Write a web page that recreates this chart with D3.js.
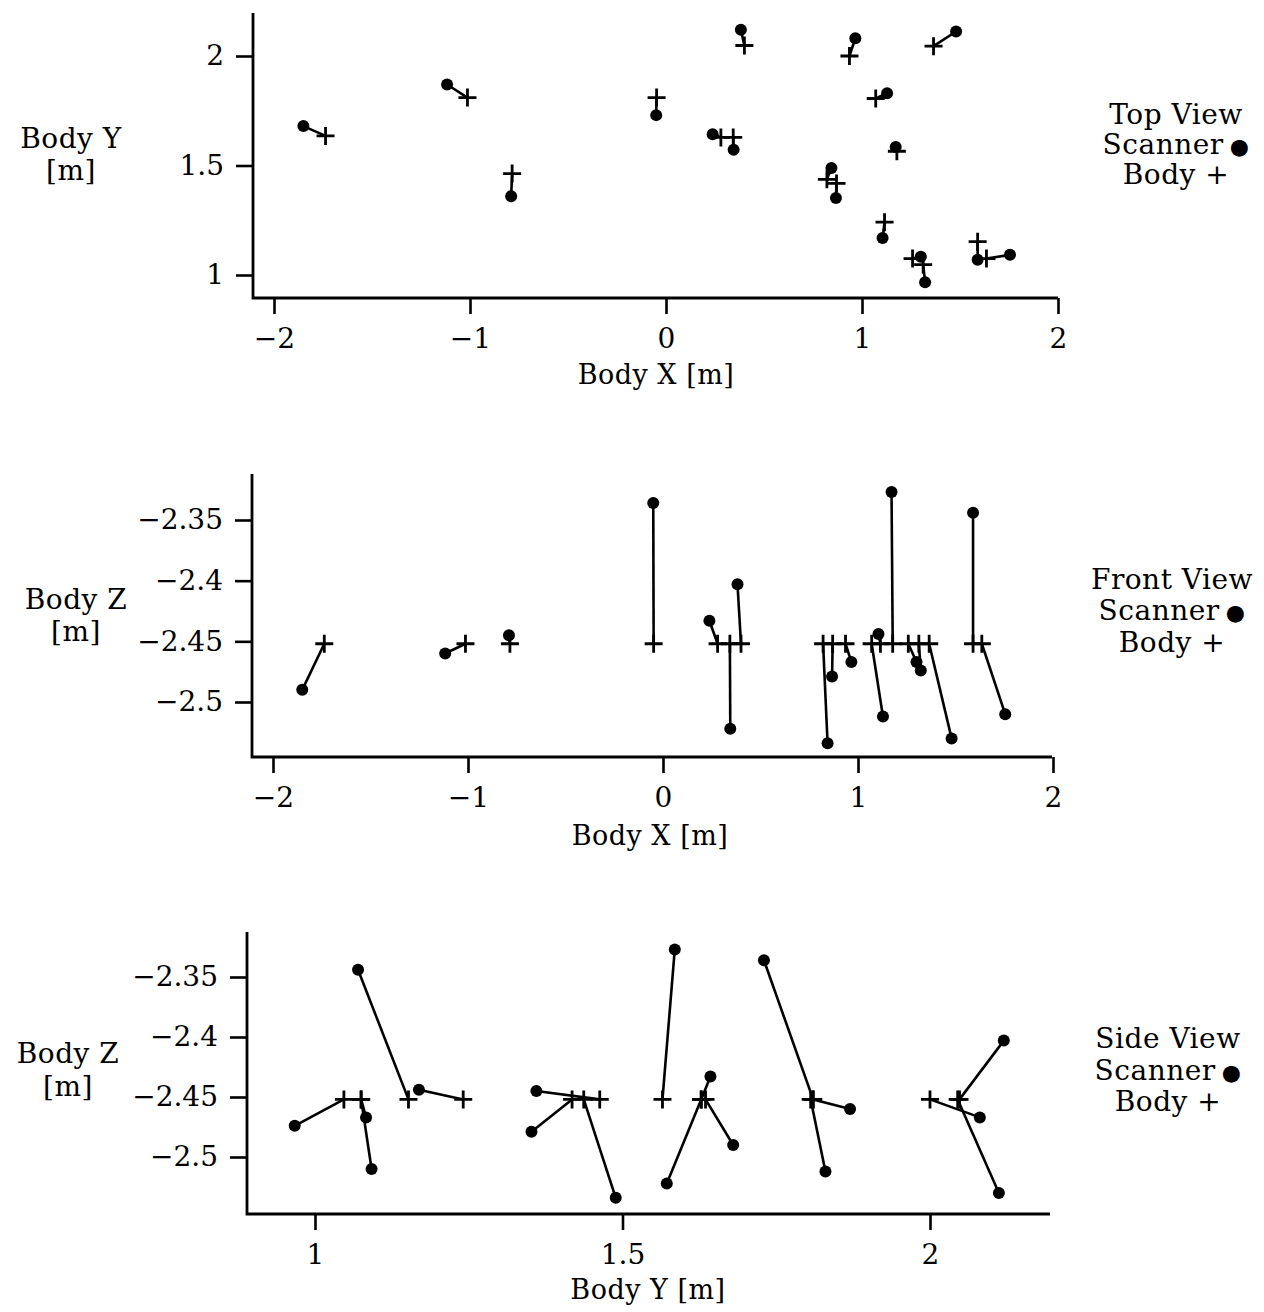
<!DOCTYPE html>
<html><head><meta charset="utf-8">
<script src="https://cdn.jsdelivr.net/npm/d3@7"></script>
<style>body{margin:0;background:#fff}</style></head>
<body><svg id="c" width="1264" height="1312"></svg>
<script>
// ---- data: 18 targets, body position (+) and scanner position (•) in metres ----
const targets = ["1","2","3","4","5","6","7","8","9","10","11","12","13","14","15","16","17","18"];
const bodyX = [-1.737,-1.013,-0.785,-0.048,0.400,0.936,1.365,0.280,0.343,1.070,1.178,0.821,0.870,1.115,1.258,1.312,1.590,1.635];
const bodyY = [1.635,1.810,1.463,1.810,2.048,2.000,2.045,1.628,1.628,1.806,1.565,1.437,1.418,1.241,1.075,1.047,1.152,1.075];
const bodyZ = [-2.452,-2.452,-2.452,-2.452,-2.452,-2.452,-2.452,-2.452,-2.452,-2.452,-2.452,-2.452,-2.452,-2.452,-2.452,-2.452,-2.452,-2.452];
const scanX = [-1.850,-1.117,-0.790,-0.050,0.382,0.966,1.480,0.238,0.345,1.128,1.172,0.844,0.867,1.105,1.300,1.322,1.590,1.755];
const scanY = [1.680,1.870,1.360,1.730,2.120,2.081,2.112,1.643,1.572,1.830,1.585,1.489,1.352,1.169,1.083,0.967,1.070,1.092];
const scanZ = [-2.490,-2.460,-2.445,-2.336,-2.403,-2.467,-2.530,-2.433,-2.522,-2.512,-2.327,-2.534,-2.479,-2.444,-2.467,-2.474,-2.344,-2.510];

const xTicks = [-2,-1,0,1,2];
const yTicks = [1,1.5,2];
const zTicks = [-2.35,-2.4,-2.45,-2.5];

const panels = [
  {h:"x", v:"y", hTicks:xTicks, vTicks:yTicks, hDom:[-2,2], hRange:[274,1058], vDom:[1,2], vRange:[275,56],
   axX:253, axTop:13, axY:298, axRight:1058,
   hTitle:"Body X [m]", hTitleX:656, hTitleY:384, vTitle:["Body Y","[m]"], vTitleX:71, vTitleY:[148,180],
   legend:["Top View","Scanner","Body +"], legX:1176, legY:[124,154,184]},
  {h:"x", v:"z", hTicks:xTicks, vTicks:zTicks, hDom:[-2,2], hRange:[273,1053], vDom:[-2.5,-2.35], vRange:[702,520],
   axX:252, axTop:474, axY:757, axRight:1052,
   hTitle:"Body X [m]", hTitleX:650, hTitleY:845, vTitle:["Body Z","[m]"], vTitleX:76, vTitleY:[609,641],
   legend:["Front View","Scanner","Body +"], legX:1172, legY:[589,620,652]},
  {h:"y", v:"z", hTicks:yTicks, vTicks:zTicks, hDom:[1,2], hRange:[315,930], vDom:[-2.5,-2.35], vRange:[1157,977],
   axX:247, axTop:932, axY:1214, axRight:1050,
   hTitle:"Body Y [m]", hTitleX:648, hTitleY:1299, vTitle:["Body Z","[m]"], vTitleX:68, vTitleY:[1063,1096],
   legend:["Side View","Scanner","Body +"], legX:1168, legY:[1048,1080,1111]}
];

const body = {x:bodyX, y:bodyY, z:bodyZ};
const scan = {x:scanX, y:scanY, z:scanZ};

const FONT = "'DejaVu Serif', 'Liberation Serif', serif";
const svg = d3.select("#c");
svg.append("rect").attr("width",1264).attr("height",1312).attr("fill","#fff");

const fmt = d3.format("");

panels.forEach(p => {
  const xs = d3.scaleLinear().domain(p.hDom).range(p.hRange);
  const ys = d3.scaleLinear().domain(p.vDom).range(p.vRange);
  const g = svg.append("g");

  // axes frame (L shape)
  g.append("path")
    .attr("d", `M${p.axX},${p.axTop}V${p.axY}H${p.axRight}`)
    .attr("fill","none").attr("stroke","#000").attr("stroke-width",2.8);

  const xa = g.append("g").attr("transform",`translate(0,${p.axY})`)
    .call(d3.axisBottom(xs).tickValues(p.hTicks).tickFormat(fmt).tickSize(16).tickSizeOuter(0).tickPadding(14));
  const ya = g.append("g").attr("transform",`translate(${p.axX},0)`)
    .call(d3.axisLeft(ys).tickValues(p.vTicks).tickFormat(fmt).tickSize(17).tickSizeOuter(0).tickPadding(12));
  [xa, ya].forEach(a => {
    a.select(".domain").remove();
    a.selectAll("line").attr("stroke","#000").attr("stroke-width",2.6);
    a.selectAll("text").attr("font-family",FONT).attr("font-size",28).attr("fill","#000");
  });

  // titles
  g.append("text").attr("x",p.hTitleX).attr("y",p.hTitleY).attr("text-anchor","middle")
    .attr("font-family",FONT).attr("font-size",27).attr("letter-spacing",0.5).text(p.hTitle);
  p.vTitle.forEach((t,i) => {
    g.append("text").attr("x",p.vTitleX).attr("y",p.vTitleY[i]).attr("text-anchor","middle")
      .attr("font-family",FONT).attr("font-size",28).attr("letter-spacing",0.5).text(t);
  });

  // legend
  p.legend.forEach((t,i) => {
    const tx = g.append("text").attr("x",p.legX).attr("y",p.legY[i]).attr("text-anchor","middle")
      .attr("font-family",FONT).attr("font-size",28).attr("letter-spacing",0.5);
    tx.append("tspan").text(t);
    if (t === "Scanner") tx.append("tspan").attr("font-size",22).attr("dx",6).text("●");
  });

  // connecting lines
  g.selectAll("line.link").data(targets).join("line").attr("class","link")
    .attr("x1",(d,i)=>xs(body[p.h][i])).attr("y1",(d,i)=>ys(body[p.v][i]))
    .attr("x2",(d,i)=>xs(scan[p.h][i])).attr("y2",(d,i)=>ys(scan[p.v][i]))
    .attr("stroke","#000").attr("stroke-width",2.6);

  // body crosses
  const s = 9;
  g.selectAll("path.body").data(targets).join("path").attr("class","body")
    .attr("d",(d,i)=>{const cx=xs(body[p.h][i]), cy=ys(body[p.v][i]);
      return `M${cx-s},${cy}H${cx+s}M${cx},${cy-s}V${cy+s}`;})
    .attr("stroke","#000").attr("stroke-width",2.8).attr("fill","none");

  // scanner dots
  g.selectAll("circle.scan").data(targets).join("circle").attr("class","scan")
    .attr("cx",(d,i)=>xs(scan[p.h][i])).attr("cy",(d,i)=>ys(scan[p.v][i]))
    .attr("r",6).attr("fill","#000");
});
</script>
</body></html>
